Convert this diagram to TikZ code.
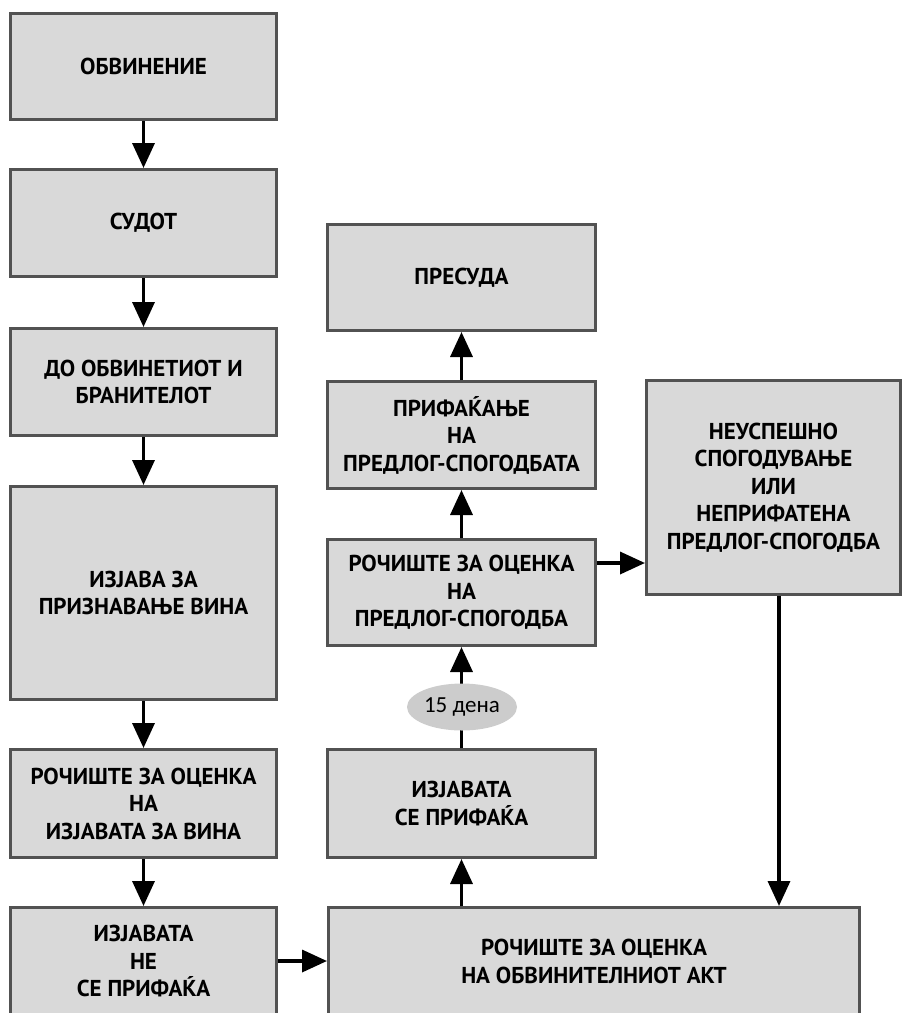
\documentclass[tikz,border=0pt]{standalone}
\usepackage{fontspec}
\setmainfont{Carlito}
\newfontfamily\boxfont{PT Sans}
\usetikzlibrary{arrows.meta,shapes.geometric}
\begin{document}
\begin{tikzpicture}[x=1pt,y=1pt,
  stepbox/.style={draw=black!68, line width=3pt, fill=black!15,
    align=center, inner sep=0pt,
    font=\boxfont\bfseries\fontsize{23}{27.5}\selectfont},
  arr/.style={draw=black, line width=3.5pt,
    -{Triangle[length=25pt,width=22pt]}},
  daybubble/.style={ellipse, fill=black!20, inner sep=0pt,
    minimum width=110pt, minimum height=47pt,
    font=\fontsize{23}{28}\selectfont}]
\useasboundingbox (0,0) rectangle (904,-1013);

% left column
\node[stepbox, minimum width=266pt, minimum height=106pt] (obv) at (143.5,-66.5) {ОБВИНЕНИЕ};
\node[stepbox, minimum width=266pt, minimum height=107pt] (sud) at (143.5,-223) {СУДОТ};
\node[stepbox, minimum width=266pt, minimum height=107pt] (do) at (143.5,-382) {ДО ОБВИНЕТИОТ И\\БРАНИТЕЛОТ};
\node[stepbox, minimum width=266pt, minimum height=213pt] (izj) at (143.5,-593) {ИЗЈАВА ЗА\\ПРИЗНАВАЊЕ ВИНА};
\node[stepbox, minimum width=266pt, minimum height=108pt] (rocv) at (143.5,-803.5) {РОЧИШТЕ ЗА ОЦЕНКА\\НА\\ИЗЈАВАТА ЗА ВИНА};
\node[stepbox, minimum width=266pt, minimum height=108pt] (ne) at (143.5,-961.5) {ИЗЈАВАТА\\НЕ\\СЕ ПРИФАЌА};

% middle column
\node[stepbox, minimum width=268pt, minimum height=106pt] (pres) at (461.5,-277.5) {ПРЕСУДА};
\node[stepbox, minimum width=268pt, minimum height=107pt] (prif) at (461.5,-435) {ПРИФАЌАЊЕ\\НА\\ПРЕДЛОГ-СПОГОДБАТА};
\node[stepbox, minimum width=268pt, minimum height=106pt] (rocp) at (461.5,-592.5) {РОЧИШТЕ ЗА ОЦЕНКА\\НА\\ПРЕДЛОГ-СПОГОДБА};
\node[stepbox, minimum width=268pt, minimum height=108pt] (se) at (461.5,-803.5) {ИЗЈАВАТА\\СЕ ПРИФАЌА};

% bottom and right boxes
\node[stepbox, minimum width=531pt, minimum height=108pt] (akt) at (594,-961.5) {РОЧИШТЕ ЗА ОЦЕНКА\\НА ОБВИНИТЕЛНИОТ АКТ};
\node[stepbox, minimum width=254pt, minimum height=214pt] (neus) at (773.5,-487.5) {НЕУСПЕШНО\\СПОГОДУВАЊЕ\\ИЛИ\\НЕПРИФАТЕНА\\ПРЕДЛОГ-СПОГОДБА};

% connectors
\draw[arr] (obv) -- (sud);
\draw[arr] (sud) -- (do);
\draw[arr] (do) -- (izj);
\draw[arr] (izj) -- (rocv);
\draw[arr] (rocv) -- (ne);
\draw[arr] (ne.east |- 0,-961) -- (akt.west |- 0,-961);
\draw[arr] (se.south |- akt.north) -- (se.south);
\draw[arr] (se.north) -- (rocp.south);
\draw[arr] (rocp) -- (prif);
\draw[arr] (prif) -- (pres);
\draw[arr] (rocp.east |- 0,-563) -- (neus.west |- 0,-563);
\draw[arr] (neus.south -| 779,0) -- (akt.north -| 779,0);

\node[daybubble] (days) at (462,-707) {15 дена};
\end{tikzpicture}
\end{document}
